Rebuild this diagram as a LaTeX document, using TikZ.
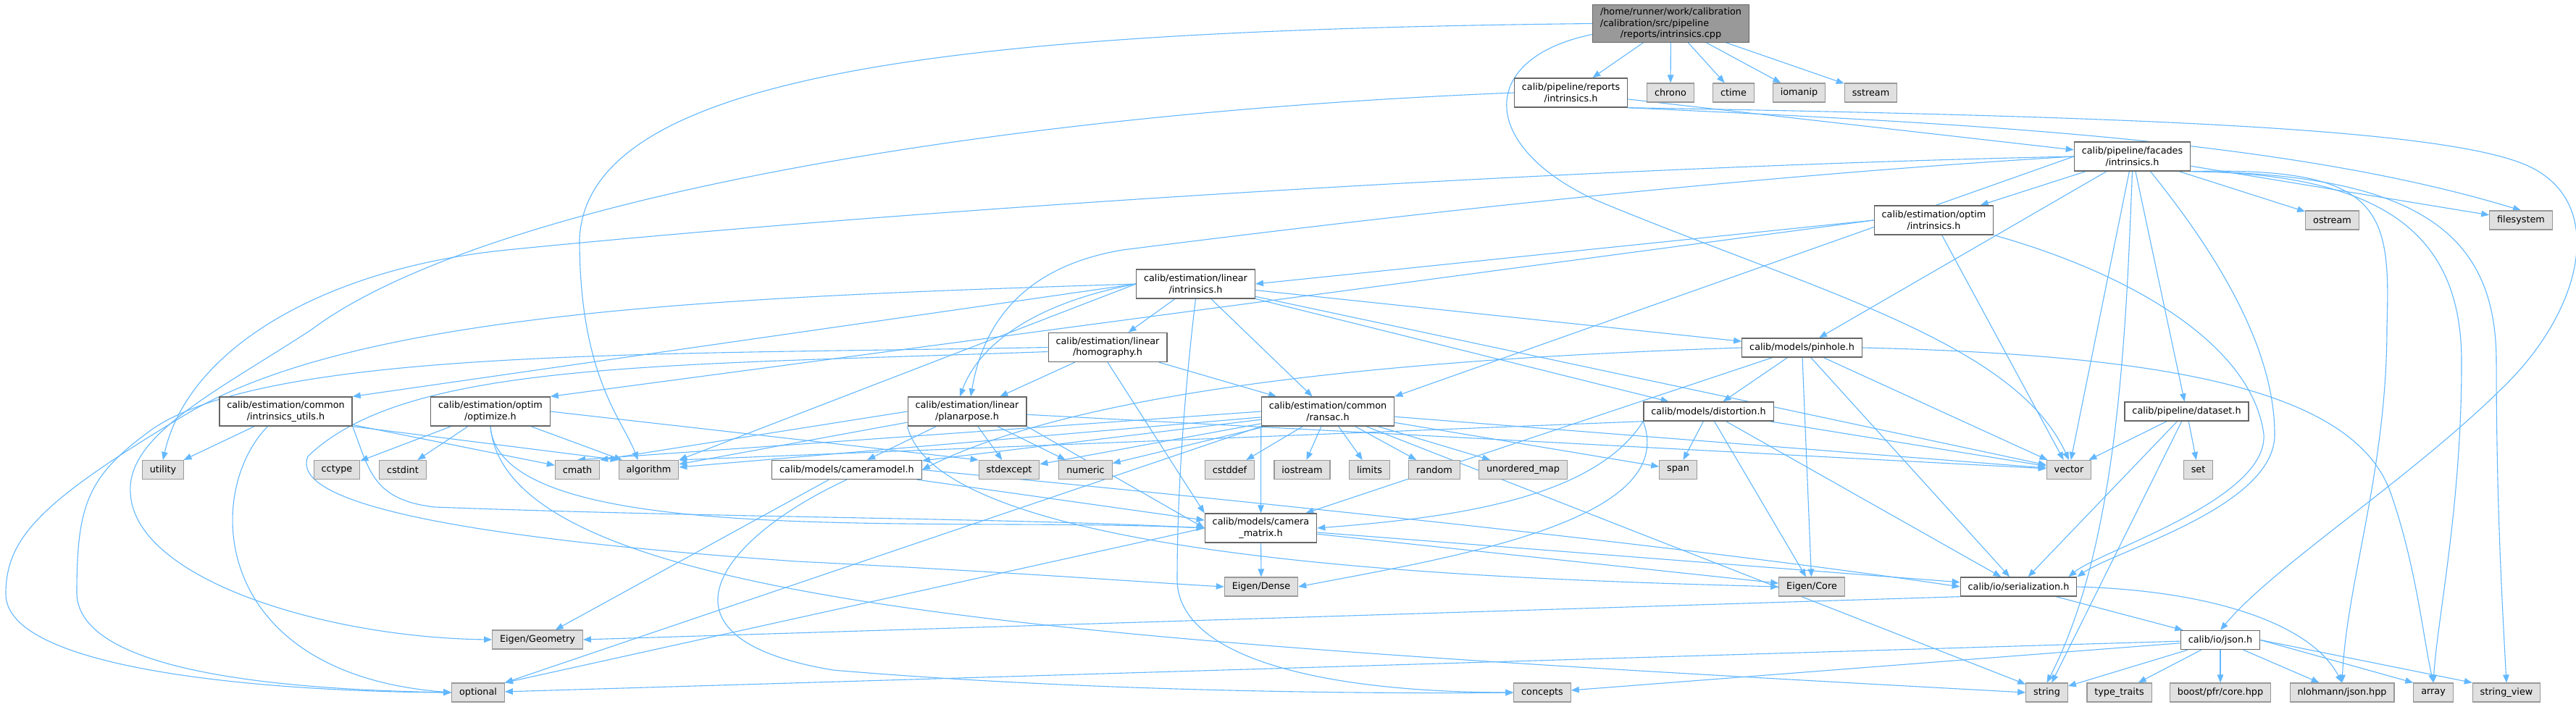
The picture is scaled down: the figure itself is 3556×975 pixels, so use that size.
\documentclass[tikz,border=0pt]{standalone}
\usepackage{fontspec}
\newfontfamily\dxfont{DejaVu Sans}
\usetikzlibrary{arrows.meta}
\pgfdeclarelayer{bg}
\pgfsetlayers{bg,main}
\definecolor{edgeblue}{HTML}{63B8FF}
\definecolor{sysfill}{HTML}{E0E0E0}
\definecolor{sysline}{HTML}{999999}
\definecolor{rimgray}{HTML}{666666}
\tikzset{
  hfile/.style={draw=rimgray, line width=1.3pt, fill=white, inner xsep=10.4pt, inner ysep=4pt, minimum height=26pt, align=center},
  syshdr/.style={hfile, draw=sysline, fill=sysfill, line width=1.1pt},
  twoline/.style={minimum height=40pt},
  rootfile/.style={hfile, draw=rimgray, fill=sysline},
  dep/.style={draw=edgeblue, line width=1.1pt, -{Triangle[length=11pt,width=8.5pt]}},
}
\begin{document}
\begin{tikzpicture}[x=1pt, y=-1pt, font=\dxfont\fontsize{12.8pt}{15.5pt}\selectfont]
\useasboundingbox (0,0) rectangle (3556,975);

% top rows
\node[rootfile] (root) at (2306.5,32.5) {/home/runner/work/calibration\\\makebox[15.24em][l]{/calibration/src/pipeline}\\/reports/intrinsics.cpp};
\node[hfile, twoline] (reports) at (2168.5,128) {calib/pipeline/reports\\/intrinsics.h};
\node[syshdr] (chrono) at (2306,128) {chrono};
\node[syshdr] (ctime) at (2393,128) {ctime};
\node[syshdr] (iomanip) at (2483.5,128) {iomanip};
\node[syshdr] (sstream) at (2582.5,128) {sstream};
\node[hfile, twoline] (facades) at (2943.5,216) {calib/pipeline/facades\\/intrinsics.h};
\node[syshdr] (ostream) at (3219.5,304) {ostream};
\node[syshdr] (filesystem) at (3480,304) {filesystem};
\node[hfile, twoline] (optimintr) at (2669.5,304) {calib/estimation/optim\\/intrinsics.h};
\node[hfile, twoline] (linintr) at (1650.5,392) {calib/estimation/linear\\/intrinsics.h};
\node[hfile, twoline] (homography) at (1529,479.5) {calib/estimation/linear\\/homography.h};
\node[hfile] (pinhole) at (2487.5,480) {calib/models/pinhole.h};

% middle row
\node[hfile, twoline] (intrutils) at (394.5,568) {calib/estimation/common\\/intrinsics\_utils.h};
\node[hfile, twoline] (optimize) at (677,568) {calib/estimation/optim\\/optimize.h};
\node[hfile, twoline] (planarpose) at (1335,568) {calib/estimation/linear\\/planarpose.h};
\node[hfile, twoline] (ransac) at (1833,568) {calib/estimation/common\\/ransac.h};
\node[hfile] (distortion) at (2358.5,568) {calib/models/distortion.h};
\node[hfile] (dataset) at (3018.5,568) {calib/pipeline/dataset.h};

% system headers row
\node[syshdr] (utility) at (225,648.5) {utility};
\node[syshdr] (cctype) at (465,648.5) {cctype};
\node[syshdr] (cstdint) at (556,648.5) {cstdint};
\node[syshdr] (cmath) at (797,648.5) {cmath};
\node[syshdr] (algorithm) at (895.5,648.5) {algorithm};
\node[hfile] (cameramodel) at (1169,648.5) {calib/models/cameramodel.h};
\node[syshdr] (stdexcept) at (1393,648.5) {stdexcept};
\node[syshdr] (numeric) at (1498.5,648.5) {numeric};
\node[syshdr] (cstddef) at (1697.5,648.5) {cstddef};
\node[syshdr] (iostream) at (1797.5,648.5) {iostream};
\node[syshdr] (limits) at (1890.5,648.5) {limits};
\node[syshdr] (random) at (1980,648.5) {random};
\node[syshdr] (umap) at (2102.5,648.5) {unordered\_map};
\node[syshdr] (span) at (2316.5,648.5) {span};
\node[syshdr] (vector) at (2856,648.5) {vector};
\node[syshdr] (set) at (3034.5,648.5) {set};

% lower rows
\node[hfile, twoline] (cammatrix) at (1740.5,729) {calib/models/camera\\\_matrix.h};
\node[syshdr] (eigendense) at (1741,810) {Eigen/Dense};
\node[syshdr] (eigencore) at (2501,810) {Eigen/Core};
\node[hfile] (serialization) at (2786.5,810) {calib/io/serialization.h};
\node[syshdr] (eigengeo) at (742,883) {Eigen/Geometry};
\node[hfile] (json) at (3065,883.5) {calib/io/json.h};
\node[syshdr] (optional) at (660,956) {optional};
\node[syshdr] (concepts) at (2129,956) {concepts};
\node[syshdr] (string) at (2825.5,956) {string};
\node[syshdr] (typetraits) at (2925.5,956) {type\_traits};
\node[syshdr] (boostpfr) at (3065,956) {boost/pfr/core.hpp};
\node[syshdr] (nljson) at (3233,956) {nlohmann/json.hpp};
\node[syshdr] (array) at (3359,956) {array};
\node[syshdr] (strview) at (3460,956) {string\_view};

\begin{pgfonlayer}{bg}
\fill[white] (0,0) rectangle (3556,975);

% straight includes
\foreach \a/\b in {root/reports, root/chrono, root/ctime, root/iomanip, root/sstream,
  reports/facades, facades/ostream, facades/filesystem, facades/optimintr, facades/pinhole,
  facades/dataset, facades/vector, optimintr/vector,
  linintr/homography, linintr/ransac, linintr/pinhole, linintr/distortion, linintr/vector,
  homography/ransac, homography/planarpose,
  planarpose/cameramodel, planarpose/stdexcept, planarpose/numeric, planarpose/algorithm, planarpose/vector,
  ransac/cstddef, ransac/iostream, ransac/limits, ransac/random, ransac/umap, ransac/numeric,
  ransac/stdexcept, ransac/vector, ransac/span, ransac/string, ransac/algorithm, ransac/cameramodel,
  distortion/span, distortion/vector, distortion/eigencore, distortion/serialization,
  pinhole/distortion, pinhole/cammatrix, pinhole/eigencore, pinhole/serialization, pinhole/vector,
  cameramodel/cammatrix, cameramodel/eigengeo,
  cammatrix/eigendense, cammatrix/eigencore, cammatrix/serialization,
  intrutils/utility, intrutils/cmath,
  optimize/cctype, optimize/cstdint, optimize/algorithm,
  dataset/vector, dataset/set, dataset/serialization, dataset/string,
  serialization/json,
  json/string, json/typetraits, json/boostpfr, json/nljson, json/optional, json/concepts}
  \draw[dep] (\a) -- (\b);

% straight, with chosen anchors
\foreach \a/\b in {optimintr.west/linintr.east, optimintr.west/optimize.north east,
  linintr.west/intrutils.north east, linintr.west/algorithm.north east,
  facades.west/ransac.north east, planarpose.west/cmath.north east,
  planarpose.south east/cammatrix.west, ransac.west/cmath.north,
  ransac.south west/cammatrix.north, distortion.south west/algorithm.north east,
  intrutils.south east/algorithm.north west, optimize.east/stdexcept.north west,
  homography.south/cammatrix.north west, ransac.south west/optional.north east,
  cammatrix.west/optional.north east, serialization.south west/eigengeo.east,
  json.east/array.north west, json.east/strview.north west}
  \draw[dep] (\a) -- (\b);

% long curved includes
\draw[dep] (root.west) .. controls (1350,42) and (810,95) .. (800,330) .. controls (800,520) and (860,580) .. ([xshift=-15pt]algorithm.north);
\draw[dep] ([yshift=-15pt]root.west) .. controls (2040,80) and (2040,200) .. (2200,275) .. controls (2500,400) and (2780,470) .. (vector.north);
\draw[dep] (reports.south east) .. controls (2700,170) and (3150,190) .. (filesystem.north);
\draw[dep] (reports.south east) .. controls (2900,160) and (3350,175) .. (3480,225) .. controls (3600,270) and (3570,420) .. (3460,530) .. controls (3330,660) and (3140,780) .. (json.north);
\draw[dep] (reports.west) .. controls (1300,160) and (650,290) .. (430,455) .. controls (300,540) and (175,600) .. (180,680) .. controls (185,800) and (450,880) .. (eigengeo.west);
\draw[dep] (facades.west) .. controls (2200,230) and (1300,285) .. (700,345) .. controls (450,370) and (260,480) .. (utility.north);
\draw[dep] (facades.west) .. controls (2300,250) and (1750,320) .. (1550,345) .. controls (1400,370) and (1355,460) .. ([xshift=5pt]planarpose.north);
\draw[dep] (facades.south) .. controls (2935,450) and (2925,750) .. (string.north);
\draw[dep] ([xshift=25pt]facades.south) .. controls (3060,350) and (3140,480) .. (3140,600) .. controls (3140,700) and (2920,760) .. (serialization.north east);
\draw[dep] (facades.south east) .. controls (3290,230) and (3300,290) .. (3295,450) .. controls (3295,650) and (3240,800) .. (nljson.north);
\draw[dep] (facades.south east) .. controls (3300,240) and (3398,330) .. (3398,500) .. controls (3398,700) and (3365,850) .. (array.north);
\draw[dep] (facades.south east) .. controls (3350,240) and (3446,330) .. (3446,500) .. controls (3446,700) and (3455,850) .. (strview.north);
\draw[dep] (optimintr.south east) .. controls (2950,380) and (3110,480) .. (3125,600) .. controls (3130,690) and (2900,760) .. ([xshift=-12pt]serialization.north east);
\draw[dep] (linintr.west) .. controls (1420,420) and (1350,480) .. ([xshift=-10pt]planarpose.north);
\draw[dep] (linintr.west) .. controls (1000,410) and (500,430) .. (260,570) .. controls (60,690) and (8,740) .. (8,820) .. controls (8,930) and (400,955) .. (optional.west);
\draw[dep] (linintr.south) .. controls (1640,500) and (1625,650) .. (1625,800) .. controls (1625,900) and (1800,955) .. (concepts.west);
\draw[dep] (homography.west) .. controls (900,490) and (350,480) .. (200,600) .. controls (120,660) and (106,700) .. (106,820) .. controls (110,930) and (400,952) .. (optional.west);
\draw[dep] ([yshift=-6pt]homography.west) .. controls (900,505) and (560,500) .. (425,630) .. controls (400,690) and (600,740) .. (1100,775) .. controls (1400,790) and (1600,805) .. (eigendense.west);
\draw[dep] ([xshift=-25pt]intrutils.south) .. controls (280,680) and (290,930) .. (optional.west);
\draw[dep] (intrutils.south east) .. controls (510,650) and (515,690) .. (600,700) .. controls (1000,715) and (1400,715) .. (cammatrix.west);
\draw[dep] (optimize.south) .. controls (690,760) and (1300,712) .. (cammatrix.west);
\draw[dep] (optimize.south) .. controls (700,840) and (1500,885) .. (string.west);
\draw[dep] (planarpose.south west) .. controls (1300,780) and (2100,800) .. (eigencore.west);
\draw[dep] (pinhole.west) .. controls (1950,495) and (1500,535) .. (cameramodel.east);
\draw[dep] (pinhole.east) .. controls (3000,490) and (3250,540) .. (3300,680) .. controls (3335,780) and (3345,880) .. (array.north);
\draw[dep] (distortion.south west) .. controls (2200,690) and (2000,715) .. (cammatrix.east);
\draw[dep] (distortion.south west) .. controls (2320,720) and (2000,770) .. (eigendense.east);
\draw[dep] (cameramodel.east) .. controls (1700,690) and (2300,750) .. (serialization.west);
\draw[dep] (cameramodel.south) .. controls (1000,740) and (880,880) .. (1150,925) .. controls (1500,955) and (1900,958) .. (concepts.west);
\draw[dep] (serialization.east) .. controls (3050,815) and (3190,860) .. (nljson.north);
\end{pgfonlayer}

\end{tikzpicture}
\end{document}
